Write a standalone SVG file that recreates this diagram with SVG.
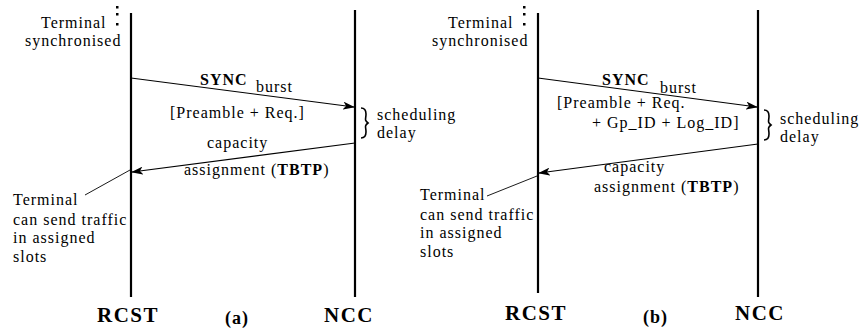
<svg xmlns="http://www.w3.org/2000/svg" width="865" height="330" viewBox="0 0 865 330">
<style>
text{font-family:"Liberation Serif","Times New Roman",serif;font-size:16px;letter-spacing:1px;fill:#000}
.b{font-weight:bold}
.big{font-weight:bold;font-size:21px;letter-spacing:1.5px}
.life{stroke:#000;stroke-width:2.2;fill:none}
.msg{stroke:#000;stroke-width:1.1;fill:none}
.thin{stroke:#000;stroke-width:0.9;fill:none}
</style>
<defs>
<marker id="ah" viewBox="0 0 12 8" refX="11" refY="4" markerWidth="12" markerHeight="8" markerUnits="userSpaceOnUse" orient="auto">
<path d="M0,0 L12,4 L0,8 L3,4 Z" fill="#000"/>
</marker>
<path id="brace" d="M0,0 C4,0 5,2 5,6 C5,11 3,12 7,15 C3,18 5,19 5,24 C5,28 4,30 0,30" fill="none" stroke="#000" stroke-width="1.6"/>
</defs>

<g id="panel-a">
<g id="a-rcst"><line class="life" x1="131" y1="13" x2="131" y2="297"/><text class="big" x="97" y="322">RCST</text></g>
<g id="a-ncc"><line class="life" x1="355" y1="10" x2="355" y2="297"/><text class="big" x="324" y="322">NCC</text></g>
<g id="a-sync-label">
<rect x="116" y="6" width="2.5" height="2.5"/><rect x="116" y="13" width="2.5" height="2.5"/><rect x="116" y="23" width="2.5" height="2.5"/>
<text x="41" y="28">Terminal</text><text x="25" y="46">synchronised</text></g>
<g id="a-sched"><use href="#brace" x="361" y="108"/><text x="377" y="120">scheduling</text><text x="377" y="138">delay</text></g>
<g id="a-term"><text x="13" y="205">Terminal</text><text x="13" y="225">can send traffic</text><text x="13" y="243">in assigned</text><text x="13" y="262">slots</text></g>
<text class="b" x="225" y="324" style="font-size:18px">(a)</text>
<g id="a-connectors">
<line class="msg" x1="131" y1="78" x2="354" y2="107" marker-end="url(#ah)"/>
<line class="msg" x1="355" y1="143" x2="132" y2="172" marker-end="url(#ah)"/>
<line class="thin" x1="85" y1="195" x2="130" y2="170"/>
<text class="b" x="200" y="85">SYNC</text><text x="256" y="92">burst</text>
<text x="170" y="118">[Preamble + Req.]</text>
<text x="207" y="148">capacity</text>
<text x="184" y="175">assignment (<tspan class="b">TBTP</tspan>)</text>
</g>
</g>

<g id="panel-b">
<g id="b-rcst"><line class="life" x1="538" y1="13" x2="538" y2="293"/><text class="big" x="505" y="320">RCST</text></g>
<g id="b-ncc"><line class="life" x1="758" y1="10" x2="758" y2="297"/><text class="big" x="735" y="320">NCC</text></g>
<g id="b-sync-label">
<rect x="523" y="6" width="2.5" height="2.5"/><rect x="523" y="13" width="2.5" height="2.5"/><rect x="523" y="23" width="2.5" height="2.5"/>
<text x="448" y="28">Terminal</text><text x="432" y="46">synchronised</text></g>
<g id="b-sched"><use href="#brace" x="764" y="110"/><text x="780" y="124">scheduling</text><text x="780" y="142">delay</text></g>
<g id="b-term"><text x="420" y="200">Terminal</text><text x="420" y="220">can send traffic</text><text x="420" y="238">in assigned</text><text x="420" y="257">slots</text></g>
<text class="b" x="643" y="323" style="font-size:18px">(b)</text>
<g id="b-connectors">
<line class="msg" x1="538" y1="78" x2="757" y2="107" marker-end="url(#ah)"/>
<line class="msg" x1="758" y1="144" x2="539" y2="173" marker-end="url(#ah)"/>
<line class="thin" x1="487" y1="196" x2="537" y2="176"/>
<text class="b" x="602" y="85">SYNC</text><text x="660" y="93">burst</text>
<text x="557" y="108">[Preamble + Req.</text>
<text x="592" y="128">+ Gp_ID + Log_ID]</text>
<text x="604" y="172">capacity</text>
<text x="594" y="192">assignment (<tspan class="b">TBTP</tspan>)</text>
</g>
</g>
</svg>
